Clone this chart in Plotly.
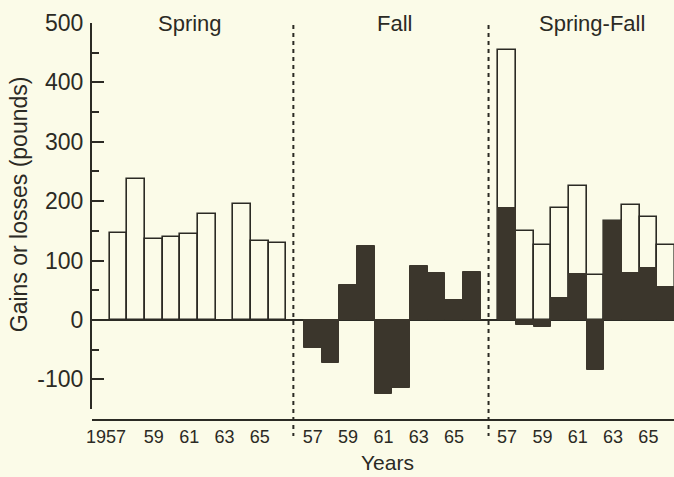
import plotly.graph_objects as go

# ---- data ----
years = [1957, 1958, 1959, 1960, 1961, 1962, 1963, 1964, 1965, 1966]
spring = [146, 238, 136, 139, 145, 179, None, 196, 133, 129]
fall = [-47, -72, 58, 124, -124, -115, 90, 79, 33, 80]
springfall_total = [455, 150, 126, 188, 225, 75, 167, 193, 174, 126]
springfall_dark = [188, -8, -12, 37, 77, -84, 167, 79, 88, 56]
tick_years = [1957, 1959, 1961, 1963, 1965]
panel_names = ["Spring", "Fall", "Spring-Fall"]
y_ticks = [-100, 0, 100, 200, 300, 400, 500]
y_ticktext = ["-100", "0", "100", "200", "300", "400", "500"]
y_minor = [-150, -50, 50, 150, 250, 350, 450]

# ---- style ----
BG = "#fbfbe8"
INK = "#2b2a24"
DARK = "#3b362c"
FONT = "Liberation Sans, Arial, sans-serif"
panel_offset = [0, 11, 22]
XMIN, XMAX = -1.5, 31.45

def xpos(panel, yr):
    return panel_offset[panel] + (yr - years[0])

fig = go.Figure()
fig.add_trace(go.Bar(
    x=[xpos(0, y) for y in years], y=spring, width=1,
    marker=dict(color=BG, line=dict(color=INK, width=1.6)), showlegend=False))
fig.add_trace(go.Bar(
    x=[xpos(1, y) for y in years], y=fall, width=1,
    marker=dict(color=DARK, line=dict(color=DARK, width=1)), showlegend=False))
fig.add_trace(go.Bar(
    x=[xpos(2, y) for y in years], y=springfall_total, width=1,
    marker=dict(color=BG, line=dict(color=INK, width=1.6)), showlegend=False))
fig.add_trace(go.Bar(
    x=[xpos(2, y) for y in years], y=springfall_dark, width=1,
    marker=dict(color=DARK, line=dict(color=DARK, width=1)), showlegend=False))

# tick labels: two-digit years; the first one ("1957") is written in full as an annotation
tickvals, ticktext = [], []
for p in range(3):
    for y in tick_years:
        if p == 0 and y == years[0]:
            continue
        tickvals.append(xpos(p, y))
        ticktext.append(str(y)[2:])

fig.update_layout(
    width=674, height=477,
    margin=dict(l=92, r=0, t=23, b=68),
    paper_bgcolor=BG, plot_bgcolor=BG,
    barmode="overlay", bargap=0,
    font=dict(family=FONT, color=INK),
    xaxis=dict(range=[XMIN, XMAX], showgrid=False, zeroline=False, showline=False,
               tickvals=tickvals, ticktext=ticktext, ticks="", tickangle=0,
               tickfont=dict(size=18, color=INK), ticklabelstandoff=15),
    yaxis=dict(range=[-150, 500], showgrid=False, zeroline=True,
               zerolinecolor=INK, zerolinewidth=2,
               showline=True, linecolor=INK, linewidth=2,
               tickvals=y_ticks, ticktext=y_ticktext,
               ticks="inside", ticklen=12, tickwidth=2, tickcolor=INK,
               tickfont=dict(size=23, color=INK), ticklabelstandoff=2,
               minor=dict(tickvals=y_minor, ticks="inside", ticklen=7,
                          tickwidth=2, tickcolor=INK)),
)

shapes = [dict(type="line", xref="paper", yref="paper", x0=0, x1=1,
               y0=-0.0285, y1=-0.0285, line=dict(color=INK, width=2))]
for xd in [9.9, 20.95]:
    shapes.append(dict(type="line", xref="x", yref="paper", x0=xd, x1=xd,
                       y0=0.995, y1=-0.07, line=dict(color=INK, width=2, dash="4px,4px")))
fig.update_layout(shapes=shapes)

annos = []
for name, xp in zip(panel_names, [4.05, 15.6, 26.8]):
    annos.append(dict(text=name, x=xp, y=1.0, xref="x", yref="paper",
                      xanchor="center", yanchor="middle", showarrow=False,
                      font=dict(size=22, color=INK, family=FONT)))
annos.append(dict(text=str(years[0]), x=xpos(0, years[0]) + 0.55, y=-0.073,
                  xref="x", yref="paper", xanchor="right", yanchor="middle",
                  showarrow=False, font=dict(size=18, color=INK, family=FONT)))
annos.append(dict(text="Years", x=0.507, y=-0.1745, xref="paper", yref="paper",
                  xanchor="center", yanchor="bottom", showarrow=False,
                  font=dict(size=21, color=INK, family=FONT)))
annos.append(dict(text="Gains or losses (pounds)", x=-0.124, y=0.53,
                  xref="paper", yref="paper", textangle=-90,
                  xanchor="center", yanchor="middle", showarrow=False,
                  font=dict(size=23, color=INK, family=FONT)))
fig.update_layout(annotations=annos)

fig.write_html("out.html")
